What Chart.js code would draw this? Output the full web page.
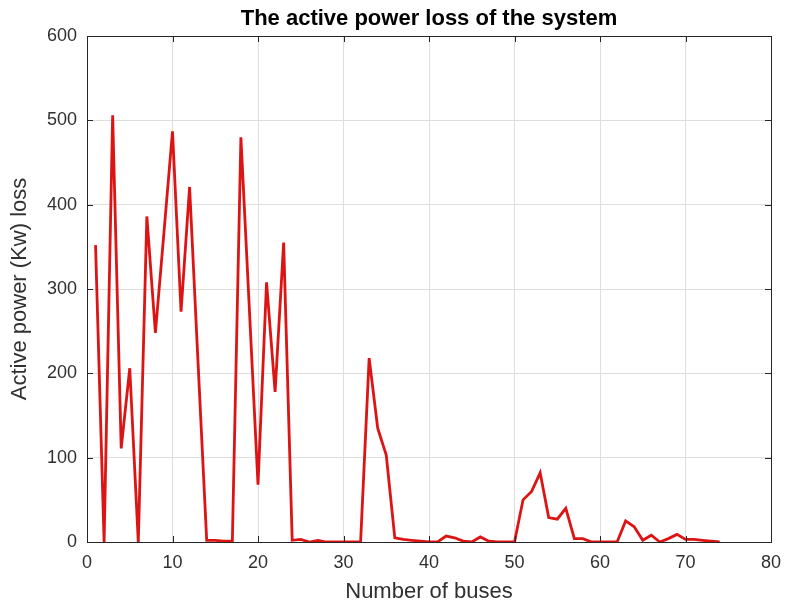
<!DOCTYPE html>
<html>
<head>
<meta charset="utf-8">
<script src="https://cdn.jsdelivr.net/npm/chart.js@4.4.1/dist/chart.umd.min.js"></script>
<style>
  html, body { margin: 0; padding: 0; background: #fff; }
  #chart { display: block; }
</style>
</head>
<body>
<canvas id="chart" width="785" height="608"></canvas>
<script>
// bus numbers 1..74 and loss (kW)
const buses = [
  1, 2, 3, 4, 5, 6, 7, 8, 9, 10, 11, 12, 13, 14, 15, 16, 17, 18, 19, 20,
  21, 22, 23, 24, 25, 26, 27, 28, 29, 30, 31, 32, 33, 34, 35, 36, 37, 38, 39, 40,
  41, 42, 43, 44, 45, 46, 47, 48, 49, 50, 51, 52, 53, 54, 55, 56, 57, 58, 59, 60,
  61, 62, 63, 64, 65, 66, 67, 68, 69, 70, 71, 72, 73, 74
];
const lossKw = [
  352, 0, 506, 111, 206, 0, 386, 248, 367, 487, 273, 421, 210, 2, 2, 1, 1, 480, 274, 68,
  308, 178, 355, 2, 3, 0, 2, 0, 0, 0, 0, 0, 218, 135, 103, 5, 3, 2, 1, 0,
  0, 7, 5, 1, 0, 6, 1, 0, 0, 0, 50, 60, 82, 29, 27, 40, 4, 4, 0, 0,
  0, 0, 25, 18, 2, 8, 0, 4, 9, 3, 3, 2, 1, 0
];
const xTicks = [0, 10, 20, 30, 40, 50, 60, 70, 80];
const yTicks = [0, 100, 200, 300, 400, 500, 600];

const titleText = "The active power loss of the system";
const tickFont = { family: "'Liberation Sans', Arial, sans-serif", size: 18 };
const axisFont = { family: "'Liberation Sans', Arial, sans-serif", size: 22 };

// box around the plot area plus a title centred over it
const frame = {
  id: "frame",
  afterDraw(chart) {
    const { ctx, chartArea: a } = chart;
    ctx.save();
    ctx.strokeStyle = "#262626";
    ctx.lineWidth = 1;
    ctx.strokeRect(a.left + 0.5, a.top + 0.5, a.right - a.left, a.bottom - a.top);
    // inward ticks
    ctx.beginPath();
    chart.scales.x.ticks.forEach((t) => {
      const px = Math.round(chart.scales.x.getPixelForValue(t.value)) + 0.5;
      ctx.moveTo(px, a.bottom); ctx.lineTo(px, a.bottom - 6);
      ctx.moveTo(px, a.top); ctx.lineTo(px, a.top + 6);
    });
    chart.scales.y.ticks.forEach((t) => {
      const py = Math.round(chart.scales.y.getPixelForValue(t.value)) + 0.5;
      ctx.moveTo(a.left, py); ctx.lineTo(a.left + 6, py);
      ctx.moveTo(a.right, py); ctx.lineTo(a.right - 6, py);
    });
    ctx.stroke();
    ctx.fillStyle = "#000";
    ctx.font = "bold 22px 'Liberation Sans', Arial, sans-serif";
    ctx.textAlign = "center";
    ctx.textBaseline = "alphabetic";
    ctx.fillText(titleText, (a.left + a.right) / 2, 25);
    ctx.restore();
  }
};

const ctx = document.getElementById("chart");
new Chart(ctx, {
  type: "line",
  data: {
    datasets: [
      {
        label: "Loss",
        data: buses.map((b, i) => ({ x: b, y: lossKw[i] })),
        borderColor: "#dc1414",
        borderWidth: 2.8,
        pointRadius: 0,
        tension: 0,
        fill: false,
      },
    ],
  },
  options: {
    responsive: false,
    animation: false,
    layout: { padding: { top: 36, right: 14, left: 0, bottom: 0 } },
    plugins: {
      legend: { display: false },
      title: { display: false },
      tooltip: { enabled: false },
    },
    scales: {
      x: {
        type: "linear",
        min: 0,
        max: 80,
        afterBuildTicks: (s) => { s.ticks = xTicks.map((v) => ({ value: v })); },
        afterFit: (s) => { s.height = 66; s.paddingLeft = 0; s.paddingRight = 0; },
        grid: { color: "#dedede", drawTicks: false },
        border: { display: false },
        ticks: { color: "#303030", font: tickFont, padding: 10, maxRotation: 0 },
        title: { display: true, text: "Number of buses", color: "#303030", font: axisFont, padding: { top: 0, bottom: 3 } },
      },
      y: {
        min: 0,
        max: 600,
        afterBuildTicks: (s) => { s.ticks = yTicks.map((v) => ({ value: v })); },
        afterFit: (s) => { s.width = 87; s.paddingTop = 0; s.paddingBottom = 0; },
        grid: { color: "#dedede", drawTicks: false },
        border: { display: false },
        ticks: { color: "#303030", font: tickFont, padding: 10 },
        title: { display: true, text: "Active power (Kw) loss", color: "#303030", font: axisFont, padding: { top: 7, bottom: 0 } },
      },
    },
  },
  plugins: [frame],
});
</script>
</body>
</html>
